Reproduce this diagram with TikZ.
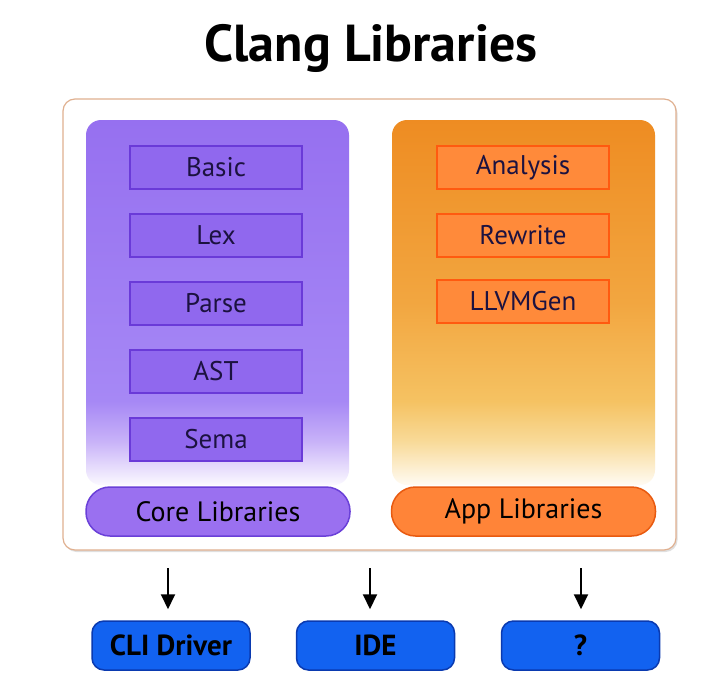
\documentclass[tikz,border=0pt]{standalone}
\usepackage{fontspec}
\setmainfont{PT Sans}
\usetikzlibrary{arrows.meta,shadows}
\definecolor{ptop}{HTML}{9670F0}
\definecolor{pmid}{HTML}{A688F5}
\definecolor{plow}{HTML}{C8B2F8}
\definecolor{pbot}{HTML}{FBF9FF}
\definecolor{otop}{HTML}{EE8C22}
\definecolor{omid}{HTML}{F2A640}
\definecolor{olow}{HTML}{F5C262}
\definecolor{olow2}{HTML}{F8DA98}
\definecolor{obot}{HTML}{FFFBF3}
\definecolor{pbox}{HTML}{9068EE}
\definecolor{pboxdraw}{HTML}{6A3AD8}
\definecolor{obox}{HTML}{FF8A3A}
\definecolor{oboxdraw}{HTML}{FF5A10}
\definecolor{ppill}{HTML}{9A70F0}
\definecolor{ppilldraw}{HTML}{6A40D8}
\definecolor{opill}{HTML}{FF8438}
\definecolor{opilldraw}{HTML}{E85A10}
\definecolor{cliblue}{HTML}{1262F0}
\definecolor{cliborder}{HTML}{0A3AB0}
\definecolor{textdark}{HTML}{1C1240}
\definecolor{outerborder}{HTML}{E0B090}
\pgfdeclareverticalshading{purpfade}{100bp}{color(0bp)=(pbot); color(25bp)=(pbot); color(31bp)=(plow); color(36.5bp)=(pmid); color(75bp)=(ptop); color(100bp)=(ptop)}
\pgfdeclareverticalshading{orangefade}{100bp}{color(0bp)=(obot); color(25bp)=(obot); color(31bp)=(olow2); color(36.5bp)=(olow); color(50bp)=(omid); color(75bp)=(otop); color(100bp)=(otop)}
\tikzset{
  panel/.style={rounded corners=15pt, minimum width=263pt, minimum height=365pt, inner sep=0pt},
  libbox/.style={draw, line width=2pt, minimum width=172pt, minimum height=43pt, inner sep=0pt, font=\fontsize{27}{29}\selectfont, text=textdark},
  corebox/.style={libbox, fill=pbox, draw=pboxdraw},
  appbox/.style={libbox, fill=obox, draw=oboxdraw},
  pill/.style={draw, line width=1.5pt, rounded corners=24pt, minimum width=264pt, minimum height=49pt, inner sep=0pt, font=\fontsize{28}{30}\selectfont, text=black},
  client/.style={draw=cliborder, fill=cliblue, line width=1.5pt, rounded corners=12pt, minimum width=158pt, minimum height=49pt, inner sep=0pt, font=\bfseries\fontsize{29}{31}\selectfont, text=black},
  arr/.style={line width=2pt, -{Triangle[width=14pt,length=15pt]}, shorten >=11pt}
}
\begin{document}
\begin{tikzpicture}[x=1pt,y=-1pt]
\useasboundingbox (0,0) rectangle (724,699);
\fill[white] (0,0) rectangle (724,699);
\node[font=\bfseries\fontsize{52}{56}\selectfont] (title) at (371,48) {Clang Libraries};
\node[draw=outerborder, fill=white, line width=1.2pt, rounded corners=12pt, minimum width=613pt, minimum height=451pt, inner sep=0pt, drop shadow={shadow xshift=1.5pt, shadow yshift=-2pt, opacity=0.25}] (outer) at (369.5,324.5) {};
\node[panel, shading=purpfade] (corepanel) at (217.5,302.5) {};
\node[panel, shading=orangefade] (apppanel) at (523.5,302.5) {};
\node[corebox] (basic) at (216,167.5) {Basic};
\node[corebox] (lex) at (216,235.5) {Lex};
\node[corebox] (parse) at (216,303.5) {Parse};
\node[corebox] (ast) at (216,371.5) {AST};
\node[corebox] (sema) at (216,439.5) {Sema};
\node[appbox] (analysis) at (523,167.5) {Analysis};
\node[appbox] (rewrite) at (523,235.5) {Rewrite};
\node[appbox] (llvmgen) at (523,301.5) {LLVMGen};
\node[pill, fill=ppill, draw=ppilldraw] (corelib) at (218,511.5) {Core Libraries};
\node[pill, fill=opill, draw=opilldraw] (applib) at (523.5,511.5) {App Libraries};
\node[client] (cli) at (171,645.5) {CLI Driver};
\node[client] (ide) at (375.5,645.5) {IDE};
\node[client] (other) at (580.5,645.5) {?};
\coordinate (a1) at (168,568);
\coordinate (a2) at (370,568);
\coordinate (a3) at (581,568);
\draw[arr] (a1) -- (a1 |- cli.north);
\draw[arr] (a2) -- (a2 |- ide.north);
\draw[arr] (a3) -- (a3 |- other.north);
\end{tikzpicture}
\end{document}
